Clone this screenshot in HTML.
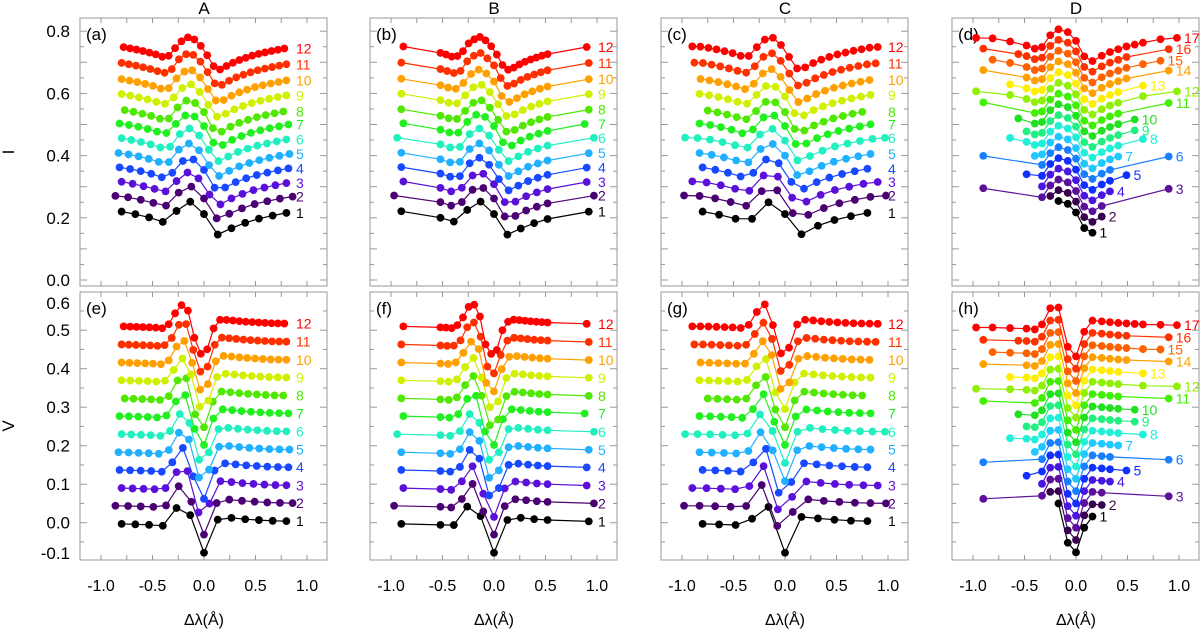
<!DOCTYPE html>
<html><head><meta charset="utf-8"><style>
body{margin:0;background:#fff}
svg{display:block;font-family:"Liberation Sans",sans-serif}
</style></head><body>
<svg id="chart" width="1200" height="633" viewBox="0 0 1200 633"></svg>
<script>
// ---------- data ----------
const colTitles = ["A","B","C","D"];
const panelLettersTop = ["(a)","(b)","(c)","(d)"];
const panelLettersBot = ["(e)","(f)","(g)","(h)"];
const xTickLabels = ["-1.0","-0.5","0.0","0.5","1.0"];
const xTickVals = [-1,-0.5,0,0.5,1];
const iTickVals = [0,0.2,0.4,0.6,0.8];
const iTickLabels = ["0.0","0.2","0.4","0.6","0.8"];
const vTickVals = [-0.1,0,0.1,0.2,0.3,0.4,0.5,0.6];
const vTickLabels = ["-0.1","0.0","0.1","0.2","0.3","0.4","0.5","0.6"];

// line profile shapes (relative to continuum)
const profIx = [-1.0,-0.8,-0.64,-0.48,-0.4,-0.33,-0.25,-0.17,-0.13,-0.08,0,0.08,0.13,0.16,0.25,0.33,0.41,0.49,0.65,0.82,1.0];
const profIy = [0,-0.002,-0.012,-0.025,-0.035,-0.03,0.008,0.027,0.03,0.018,-0.01,-0.06,-0.076,-0.075,-0.058,-0.046,-0.037,-0.028,-0.016,-0.005,0];
const profVx = [-1,-0.8,-0.48,-0.4,-0.33,-0.25,-0.2,-0.17,-0.13,-0.1,-0.08,-0.04,0,0.04,0.08,0.13,0.16,0.25,0.4,0.65,1.0];
const profVy = [0,0,-0.003,-0.005,0.008,0.05,0.058,0.052,0.02,-0.02,-0.05,-0.07,-0.075,-0.055,-0.011,0.01,0.018,0.016,0.012,0.008,0.006];

// continuum offsets per series
const offIabc = [0.222,0.272,0.318,0.364,0.41,0.458,0.505,0.55,0.6,0.648,0.7,0.752];
const offVabc = [-0.003,0.044,0.090,0.137,0.183,0.230,0.277,0.323,0.370,0.416,0.463,0.510];
const offId = [0.227,0.262,0.296,0.331,0.365,0.40,0.434,0.469,0.503,0.538,0.572,0.607,0.641,0.676,0.710,0.745,0.779];
const offVd = [-0.002,0.030,0.062,0.093,0.125,0.157,0.189,0.221,0.253,0.284,0.316,0.348,0.380,0.412,0.443,0.475,0.507];

// sampling per series
const aMin = [-0.8,-0.86,-0.8,-0.82,-0.83,-0.8,-0.82,-0.77,-0.8,-0.8,-0.8,-0.78];
const aN   = [13,15,16,17,18,18,19,19,20,22,24,26];
const bLW  = [-0.9,-0.97,-0.88,-0.9,-0.9,-0.94,-0.88,-0.9,-0.9,-0.9,-0.9,-0.88];
const bRW  = [0.92,0.97,0.9,0.9,0.92,0.97,0.88,0.92,0.92,0.92,0.92,0.9];
const bN   = [9,11,11,12,12,12,13,14,14,15,17,20];
const cMin = [-0.8,-0.98,-0.9,-0.8,-0.83,-0.97,-0.83,-0.75,-0.83,-0.82,-0.88,-0.9];
const cN   = [11,14,14,14,15,17,17,17,19,20,22,24];
const dX = [
 [-0.17,-0.08,0,0.08,0.16],
 [-0.25,-0.17,-0.08,0,0.08,0.16,0.25],
 [-0.9,-0.33,-0.25,-0.17,-0.08,0,0.08,0.16,0.25,0.9],
 [-0.33,-0.25,-0.17,-0.08,0,0.08,0.16,0.25,0.33],
 [-0.48,-0.33,-0.25,-0.17,-0.08,0,0.08,0.16,0.25,0.33,0.49],
 [-0.9,-0.33,-0.25,-0.17,-0.08,0,0.08,0.16,0.25,0.33,0.9],
 [-0.4,-0.33,-0.25,-0.17,-0.08,0,0.08,0.16,0.25,0.33,0.41],
 [-0.64,-0.48,-0.4,-0.33,-0.25,-0.17,-0.08,0,0.08,0.16,0.25,0.33,0.41,0.65],
 [-0.48,-0.4,-0.33,-0.25,-0.17,-0.08,0,0.08,0.16,0.25,0.33,0.41,0.57],
 [-0.56,-0.4,-0.33,-0.25,-0.17,-0.08,0,0.08,0.16,0.25,0.33,0.41,0.57],
 [-0.9,-0.4,-0.33,-0.25,-0.17,-0.08,0,0.08,0.16,0.25,0.33,0.41,0.9],
 [-0.97,-0.64,-0.48,-0.4,-0.33,-0.25,-0.17,-0.08,0,0.08,0.16,0.25,0.33,0.41,0.65,0.98],
 [-0.64,-0.48,-0.4,-0.33,-0.25,-0.17,-0.08,0,0.08,0.16,0.25,0.33,0.41,0.65],
 [-0.9,-0.48,-0.4,-0.33,-0.25,-0.17,-0.08,0,0.08,0.16,0.25,0.33,0.41,0.49,0.9],
 [-0.81,-0.64,-0.48,-0.4,-0.33,-0.25,-0.17,-0.08,0,0.08,0.16,0.25,0.33,0.41,0.49,0.65,0.82],
 [-0.9,-0.56,-0.48,-0.4,-0.33,-0.25,-0.17,-0.08,0,0.08,0.16,0.25,0.33,0.41,0.49,0.9],
 [-0.97,-0.81,-0.64,-0.48,-0.4,-0.33,-0.25,-0.17,-0.08,0,0.08,0.16,0.25,0.33,0.41,0.49,0.57,0.65,0.82,0.98]
];
const colors12 = ["#000000","#4a0072","#5a10d8","#1848ff","#20b0ff","#20f0c0","#20f020","#50e800","#d0f000","#ffa000","#ff3000","#ff0000"];
const colors17 = ["#000000","#3a0050","#5a109a","#4818e0","#1030ff","#1880ff","#20c8ff","#20f0d8","#20f080","#20e020","#40f000","#90f000","#ffee00","#ffa000","#ff6000","#ff3000","#ff0000"];

// ---------- drawing ----------
const NS="http://www.w3.org/2000/svg";
const svg=document.getElementById('chart');
function el(tag,attrs,parent){const e=document.createElementNS(NS,tag);for(const k in attrs)e.setAttribute(k,attrs[k]);(parent||svg).appendChild(e);return e;}
function interp(xs,ys,x){if(x<=xs[0])return ys[0];for(let i=1;i<xs.length;i++){if(x<=xs[i]){const t=(x-xs[i-1])/(xs[i]-xs[i-1]);return ys[i-1]+t*(ys[i]-ys[i-1]);}}return ys[ys.length-1];}
function lin(a,b,n){const r=[];for(let i=0;i<n;i++)r.push(a+(b-a)*i/(n-1));return r;}

const lefts=[80,370,661,952], W=247;
const labelDx=[216,228,227,0];
const rows=[{top:18,bot:286,y0:280,sc:311},{top:292,bot:560,y0:522.7,sc:385}];
function xs(col,x){return lefts[col]+124+x*103;}
function ys(row,v){return rows[row].y0-v*rows[row].sc;}

function seriesX(col,k){
  if(col===0)return lin(aMin[k],-aMin[k],aN[k]);
  if(col===1)return [bLW[k]].concat(lin(-0.52,0.52,bN[k])).concat([bRW[k]]);
  if(col===2)return lin(cMin[k],-cMin[k],cN[k]);
  return dX[k];
}

for(let col=0;col<4;col++){
  const t=el('text',{x:lefts[col]+124,y:14,'text-anchor':'middle','font-size':17},svg);
  t.textContent=colTitles[col];
  
  
  for(let row=0;row<2;row++){
    const R=rows[row], L=lefts[col];
    const g=el('g',{});
    
    
    const fr=el('rect',{x:L,y:R.top,width:W,height:R.bot-R.top,fill:'none',stroke:'#999','stroke-width':1},g);
    
    
    for(let x=-1;x<=1.001;x+=0.25){
      const px=xs(col,x);
      el('line',{x1:px,x2:px,y1:R.bot,y2:R.bot-5,stroke:'#999'},g);
      el('line',{x1:px,x2:px,y1:R.top,y2:R.top+5,stroke:'#999'},g);
    }
    const yv=row===0?[0,0.8]:[-0.1,0.6];
    for(let v=yv[0];v<=yv[1]+0.001;v+=0.05){
      const py=ys(row,v); if(py<R.top||py>R.bot)continue;
      const maj=Math.abs(Math.round(v*10)-v*10)<0.01;
      const len=maj?7:4;
      el('line',{x1:L,x2:L+len,y1:py,y2:py,stroke:'#999'},g);
      el('line',{x1:L+W,x2:L+W-len,y1:py,y2:py,stroke:'#999'},g);
    }
    const pl=el('text',{x:L+6,y:R.top+22,'font-size':17},g);
    pl.textContent=row===0?panelLettersTop[col]:panelLettersBot[col];
    
    
    const nS=col===3?17:12;
    const cols=col===3?colors17:colors12;
    const px=row===0?profIx:profVx, py=row===0?profIy:profVy;
    const offs=col===3?(row===0?offId:offVd):(row===0?offIabc:offVabc);
    for(let k=0;k<nS;k++){
      const X=seriesX(col,k);
      const pts=X.map(x=>[xs(col,x),ys(row,offs[k]+interp(px,py,x))]);
      const sg=el('g',{},g);
      
      
      const pline=el('polyline',{points:pts.map(p=>p[0].toFixed(1)+','+p[1].toFixed(1)).join(' '),fill:'none',stroke:cols[k],'stroke-width':1.2},sg);
      
      
      pts.forEach(p=>{
        const c=el('circle',{cx:p[0],cy:p[1],r:3.9,fill:cols[k]},sg);
        
        
      });
      const last=pts[pts.length-1];
      const lx=col===3?last[0]+7:L+labelDx[col];
      const lb=el('text',{x:lx,y:last[1]+5,'font-size':14,fill:cols[k]},sg);
      lb.textContent=String(k+1);
      
      
    }
    if(row===1){
      xTickVals.forEach((v,i)=>{
        const tl=el('text',{x:xs(col,v),y:591,'text-anchor':'middle','font-size':16},svg);
        tl.textContent=xTickLabels[i];
        
        
      });
      const xt=el('text',{x:L+124,y:625,'text-anchor':'middle','font-size':16},svg);
      xt.textContent='Δλ(Å)';
      
      
    }
    if(col===0){
      const tv=row===0?iTickVals:vTickVals, tlb=row===0?iTickLabels:vTickLabels;
      tv.forEach((v,i)=>{
        let yy=ys(row,v)+6;
        if(yy<R.top+16)yy=R.top+17;
        if(yy>R.bot)yy=R.bot-1;
        const tl=el('text',{x:70,y:yy,'text-anchor':'end','font-size':17},svg);
        tl.textContent=tlb[i];
        
        
      });
      const cy=(R.top+R.bot)/2;
      const yt=el('text',{x:14,y:cy,'text-anchor':'middle','font-size':17,transform:'rotate(-90 14 '+cy+')'},svg);
      yt.textContent=row===0?'I':'V';
      
      
    }
  }
}
</script>
</body></html>
